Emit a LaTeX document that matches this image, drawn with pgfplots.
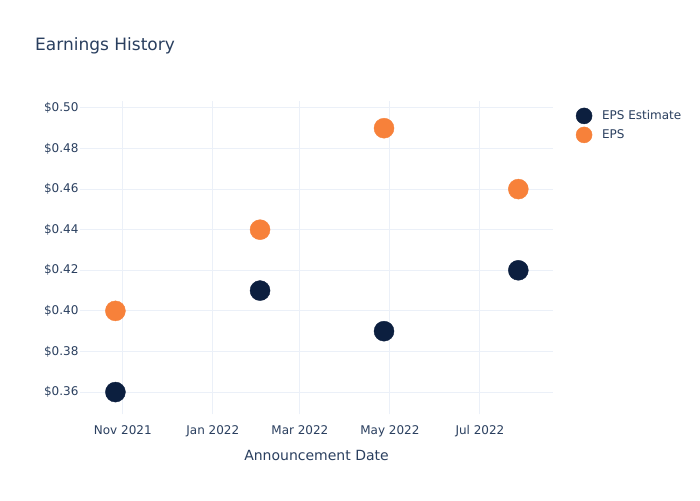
\documentclass[border=0pt]{standalone}
\usepackage{pgfplots}
\pgfplotsset{compat=1.18}
\usepackage{fontspec}
\setmainfont{DejaVu Sans}
\definecolor{textc}{HTML}{2A3F5F}
\definecolor{gridc}{HTML}{EBF0F8}
\definecolor{navy}{HTML}{0C1F3F}
\definecolor{orng}{HTML}{F7813A}
\begin{document}
\begin{tikzpicture}
\fill[white] (0pt,0pt) rectangle (700pt,500pt);
\path[use as bounding box] (0pt,0pt) rectangle (700pt,500pt);
\node[anchor=base west, text=textc, font=\fontsize{17}{20}\selectfont, inner sep=0pt] at (35pt,449pt) {Earnings History};
\begin{axis}[
  at={(80pt,86pt)}, anchor=south west,
  scale only axis, width=473pt, height=313pt,
  xmin=-29, xmax=291.5, ymin=0.3492, ymax=0.5034,
  xtick={0,61,120,181,242},
  xticklabels={Nov 2021,Jan 2022,Mar 2022,May 2022,Jul 2022},
  ytick={0.36,0.38,0.40,0.42,0.44,0.46,0.48,0.50},
  yticklabels={\$0.36,\$0.38,\$0.40,\$0.42,\$0.44,\$0.46,\$0.48,\$0.50},
  axis line style={draw=none},
  major tick length=0pt,
  grid=major,
  grid style={color=gridc, line width=1pt},
  /pgf/number format/assume math mode=true,
  tick label style={font=\fontsize{12}{14}\selectfont, text=textc},
  yticklabel style={xshift=2pt},
  xticklabel style={yshift=-8pt},
  xlabel={Announcement Date},
  xlabel style={font=\fontsize{14}{16}\selectfont, text=textc, at={(axis description cs:0.5,-0.134)}, anchor=center},
  legend style={draw=none, fill=none, at={(1.042,0.985)}, anchor=north west,
    font=\fontsize{12}{14}\selectfont, text=textc, row sep=3pt,
    legend cell align=left},
  legend image code/.code={\path[draw=none,fill=none] (0pt,-1pt) rectangle (21pt,1pt);\draw[#1, mark size=8pt] plot coordinates {(5pt,0pt)};},
]
\addplot[only marks, mark=*, mark size=10pt, color=navy, mark options={draw=navy, fill=navy}]
  coordinates {(-5,0.36) (93,0.41) (177,0.39) (268,0.42)};
\addlegendentry{EPS Estimate}
\addplot[only marks, mark=*, mark size=10pt, color=orng, mark options={draw=orng, fill=orng}]
  coordinates {(-5,0.40) (93,0.44) (177,0.49) (268,0.46)};
\addlegendentry{EPS}
\end{axis}
\end{tikzpicture}
\end{document}
